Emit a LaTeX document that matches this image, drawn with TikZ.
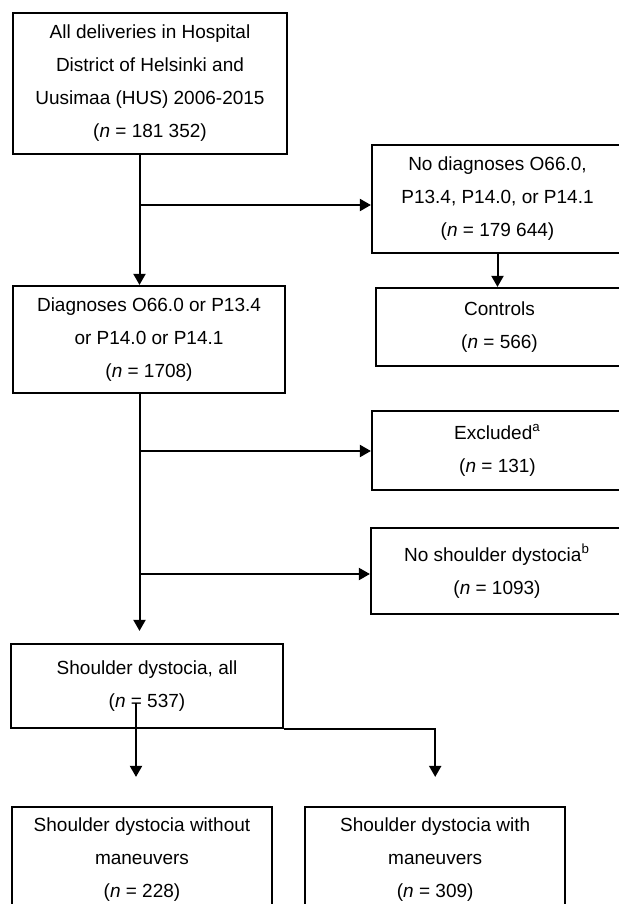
\documentclass[tikz,border=0pt]{standalone}
\usepackage{fontspec}
\setmainfont{Liberation Sans}
\usetikzlibrary{arrows.meta,positioning}

\begin{document}
\begin{tikzpicture}[
    x=0.5pt, y=-0.5pt,
    font=\fontsize{9.5}{16.5}\selectfont,
    block/.style={draw, line width=1.1pt, align=center, inner sep=0pt},
    arrow/.style={-{Triangle[length=5.5pt, width=6pt]}, line width=1pt}
  ]
    \useasboundingbox (0,0) rectangle (619,904);

    \node[block, minimum width=137pt, minimum height=70.5pt] (all) at (150,83.5) {All deliveries in Hospital\\District of Helsinki and\\Uusimaa (HUS) 2006-2015\\(\textit{n} = 181 352)};
    \node[block, minimum width=125.5pt, minimum height=54pt] (nodiag) at (497.5,199) {No diagnoses O66.0,\\P13.4, P14.0, or P14.1\\(\textit{n} = 179 644)};
    \node[block, minimum width=123.5pt, minimum height=39pt] (controls) at (499.5,327) {Controls\\(\textit{n} = 566)};
    \node[block, minimum width=136pt, minimum height=53.5pt] (diag) at (149,339.5) {Diagnoses O66.0 or P13.4\\or P14.0 or P14.1\\(\textit{n} = 1708)};
    \node[block, minimum width=125.5pt, minimum height=39.5pt] (excl) at (497.5,450.5) {Excluded\textsuperscript{a}\\(\textit{n} = 131)};
    \node[block, minimum width=126pt, minimum height=43pt] (nosd) at (497,571) {No shoulder dystocia\textsuperscript{b}\\(\textit{n} = 1093)};
    \node[block, minimum width=136pt, minimum height=42pt] (sdall) at (147,686) {Shoulder dystocia, all\\(\textit{n} = 537)};
    \node[block, minimum width=130pt, minimum height=53pt] (without) at (142,860) {Shoulder dystocia without\\maneuvers\\(\textit{n} = 228)};
    \node[block, minimum width=130pt, minimum height=53pt, right=15.5pt of without] (with) {Shoulder dystocia with\\maneuvers\\(\textit{n} = 309)};

    % branch points
    \coordinate (j1) at (139.5,205);
    \coordinate (j2) at (139.5,451);
    \coordinate (j3) at (139.5,574);
    \coordinate (s0) at (136,703);

    \draw[arrow] (all.south -| j1) -- (diag.north -| j1);
    \draw[arrow] (j1) -- (nodiag.west |- j1);
    \draw[arrow] (nodiag.south) -- (controls.north -| nodiag.south);
    \draw[arrow, shorten >=6pt] (diag.south -| j2) -- (sdall.north -| j2);
    \draw[arrow] (j2) -- (excl.west |- j2);
    \draw[arrow] (j3) -- (nosd.west |- j3);
    \draw[arrow, shorten >=14.5pt] (s0) -- (without.north -| s0);
    \draw[arrow, shorten >=14.5pt] (sdall.south east) -| (with.north);
  \end{tikzpicture}
\end{document}
